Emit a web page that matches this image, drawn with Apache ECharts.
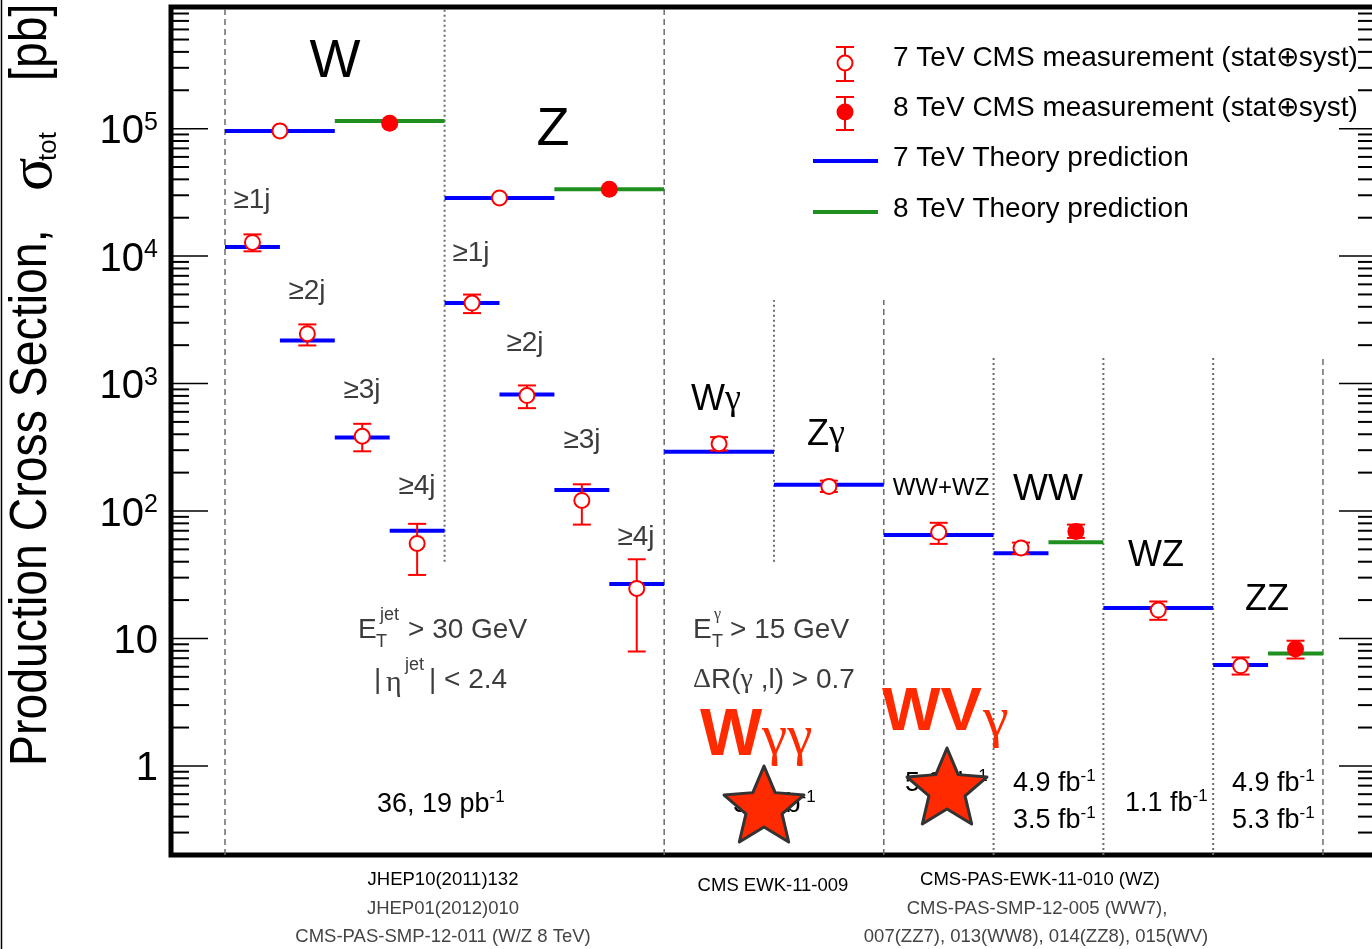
<!DOCTYPE html>
<html>
<head>
<meta charset="utf-8">
<title>Production cross sections</title>
<script src="https://cdn.jsdelivr.net/npm/echarts@6/dist/echarts.min.js"></script>
<style>
  html, body { margin: 0; padding: 0; background: #fff; }
  #chart { width: 1372px; height: 949px; }
</style>
</head>
<body>
<div id="chart"></div>
<script>
// ---------------------------------------------------------------------------
// Total production cross sections, in pb.
// Bins run along a process axis: one unit per jet-multiplicity slot,
// inclusive W/Z and diboson channels take two units.
// ---------------------------------------------------------------------------
const bins7 = [[0, 2], [0, 1], [1, 2], [2, 3], [3, 4],
               [4, 6], [4, 5], [5, 6], [6, 7], [7, 8],
               [8, 10], [10, 12], [12, 14], [14, 15], [16, 18], [18, 19]];
const names7 = ['W', 'W ≥1j', 'W ≥2j', 'W ≥3j', 'W ≥4j',
                'Z', 'Z ≥1j', 'Z ≥2j', 'Z ≥3j', 'Z ≥4j',
                'Wγ', 'Zγ', 'WW+WZ', 'WW', 'WZ', 'ZZ'];
const theory7  = [96000, 11800, 2180, 378, 70.0, 28600, 4280, 820, 146, 26.7, 291, 161, 64.9, 46.6, 17.3, 6.2];
const meas7    = [96000, 12800, 2460, 386, 55.7, 28600, 4280, 805, 121, 24.7, 337, 156, 68.0, 51.3, 16.7, 6.1];
const err7Low  = [null, 10900, 1990, 294, 31.5, null, 3570, 641, 78.2, 7.9, 298, 141, 55.2, 46.0, 14.0, 5.21];
const err7High = [null, 14800, 2910, 483, 79.3, null, 4990, 966, 162, 41.8, 380, 173, 80.8, 56.5, 19.5, 7.10];

const bins8 = [[2, 4], [6, 8], [15, 16], [19, 20]];
const names8 = ['W', 'Z', 'WW', 'ZZ'];
const theory8  = [115000, 33500, 56.8, 7.62];
const meas8    = [110000, 33400, 69.2, 8.26];
const err8Low  = [null, null, 61.5, 6.96];
const err8High = [null, null, 78.2, 9.6];

// Section separators: [x, lower value, upper value, 'dash' | 'dot']
const dividers = [
  [0, 0.2, 9e5, 'dash'], [4, 40, 9e5, 'dot'], [8, 0.2, 9e5, 'dash'],
  [10, 40, 4520, 'dot'], [12, 0.2, 4520, 'dash'],
  [14, 0.2, 1675, 'dot'], [16, 0.2, 1675, 'dot'], [18, 0.2, 1675, 'dot'],
  [20, 0.2, 1675, 'dash']
];

// Labelled decades of the log axis
const yDecades = [1, 10, 100, 1000, 10000, 100000];
const yDecadeLabels = ['1', '10', '10^2', '10^3', '10^4', '10^5'];

// ---------------------------------------------------------------------------
const X_MIN = -0.9836, X_MAX = 20.966;
const Y_MIN = 0.2, Y_MAX = 9e5;

const SANS = '"Liberation Sans", Arial, Helvetica, sans-serif';
const SERIF = '"Liberation Serif", "Times New Roman", serif';
const RED = '#ff0000';
const BLUE = '#0000ff';
const GREEN = '#1f8f1f';
const STAR_RED = '#ff2a00';
const GREY_TXT = '#3c3c3c';

// minor + major tick values over the axis range
const tickValues = [];
for (let e = -1; e <= 5; e++) {
  for (let m = 1; m <= 9; m++) {
    const v = +(m * Math.pow(10, e)).toPrecision(6);
    if (v >= Y_MIN * 0.999 && v <= Y_MAX * 1.001) tickValues.push(v);
  }
}

const mid = b => (b[0] + b[1]) / 2;

function hLineSeries(name, bins, values, color) {
  return {
    name, type: 'custom', coordinateSystem: 'cartesian2d', z: 3, silent: true,
    data: bins.map((b, i) => [b[0], b[1], values[i]]),
    encode: { x: [0, 1], y: 2 },
    renderItem(params, api) {
      const a = api.coord([api.value(0), api.value(2)]);
      const b = api.coord([api.value(1), api.value(2)]);
      return {
        type: 'line',
        shape: { x1: a[0], y1: a[1], x2: b[0], y2: b[1] },
        style: { stroke: color, lineWidth: 4 }
      };
    }
  };
}

function errorSeries(name, bins, lo, hi) {
  const rows = [];
  bins.forEach((b, i) => { if (lo[i] != null) rows.push([mid(b), lo[i], hi[i]]); });
  return {
    name, type: 'custom', coordinateSystem: 'cartesian2d', z: 4, silent: true,
    data: rows,
    encode: { x: 0, y: [1, 2] },
    renderItem(params, api) {
      const p1 = api.coord([api.value(0), api.value(1)]);
      const p2 = api.coord([api.value(0), api.value(2)]);
      const st = { stroke: RED, lineWidth: 2 };
      const c = 9;
      return {
        type: 'group',
        children: [
          { type: 'line', shape: { x1: p1[0], y1: p1[1], x2: p2[0], y2: p2[1] }, style: st },
          { type: 'line', shape: { x1: p1[0] - c, y1: p1[1], x2: p1[0] + c, y2: p1[1] }, style: st },
          { type: 'line', shape: { x1: p2[0] - c, y1: p2[1], x2: p2[0] + c, y2: p2[1] }, style: st }
        ]
      };
    }
  };
}

const series = [
  // section separators
  {
    type: 'custom', coordinateSystem: 'cartesian2d', z: 1, silent: true,
    data: dividers.map(d => [d[0], d[1], d[2], d[3] === 'dash' ? 0 : 1]),
    encode: { x: 0, y: [1, 2] },
    renderItem(params, api) {
      const p1 = api.coord([api.value(0), api.value(1)]);
      const p2 = api.coord([api.value(0), api.value(2)]);
      const dashed = api.value(3) === 0;
      return {
        type: 'line',
        shape: { x1: p1[0], y1: p1[1], x2: p2[0], y2: p2[1] },
        style: { stroke: '#6b6b6b', lineWidth: dashed ? 1.5 : 2, lineDash: dashed ? [6, 4] : [2, 3] }
      };
    }
  },
  hLineSeries('7 TeV Theory prediction', bins7, theory7, BLUE),
  hLineSeries('8 TeV Theory prediction', bins8, theory8, GREEN),
  errorSeries('7 TeV errors', bins7, err7Low, err7High),
  errorSeries('8 TeV errors', bins8, err8Low, err8High),
  {
    name: '7 TeV CMS measurement (stat⊕syst)', type: 'scatter', z: 5, silent: true,
    data: bins7.map((b, i) => ({ name: names7[i], value: [mid(b), meas7[i]] })),
    symbol: 'circle', symbolSize: 15,
    itemStyle: { color: '#ffffff', borderColor: RED, borderWidth: 2, opacity: 1 }
  },
  {
    name: '8 TeV CMS measurement (stat⊕syst)', type: 'scatter', z: 5, silent: true,
    data: bins8.map((b, i) => ({ name: names8[i], value: [mid(b), meas8[i]] })),
    symbol: 'circle', symbolSize: 17,
    itemStyle: { color: RED, opacity: 1 }
  },
  // inward ticks on both vertical frame sides, decade labels on the left
  {
    type: 'custom', coordinateSystem: 'cartesian2d', z: 6, silent: true,
    data: tickValues.map(v => [0, v]),
    encode: { x: 0, y: 1 },
    renderItem(params, api) {
      const v = api.value(1);
      const y = api.coord([0, v])[1];
      const cs = params.coordSys;
      const k = yDecades.indexOf(v);
      const major = k >= 0;
      const L = major ? 37 : 18;
      const lw = major ? 1.5 : 2;
      const left = cs.x, right = cs.x + cs.width;
      const children = [
        { type: 'line', shape: { x1: left, y1: y, x2: left + L, y2: y }, style: { stroke: '#000', lineWidth: lw } },
        { type: 'line', shape: { x1: right - L, y1: y, x2: right, y2: y }, style: { stroke: '#000', lineWidth: lw } }
      ];
      if (major) {
        const parts = yDecadeLabels[k].split('^');
        const text = parts.length > 1 ? `{b|${parts[0]}}{s|${parts[1]}}` : `{b|${parts[0]}}`;
        children.push({
          type: 'text',
          style: {
            text, x: left - 13, y: y + 3.5, align: 'right', verticalAlign: 'middle',
            rich: {
              b: { fontSize: 40, fontFamily: SANS, fill: '#000' },
              s: { fontSize: 25, fontFamily: SANS, fill: '#000', padding: [0, 0, 18, 0] }
            }
          }
        });
      }
      return { type: 'group', children };
    }
  }
];

// ---------------------------------------------------------------------------
// Annotations
// ---------------------------------------------------------------------------
function label(x, y, text, size, opt) {
  opt = opt || {};
  const el = {
    type: 'text', x, y, z: opt.z || 100, silent: true,
    rotation: opt.rotation || 0, scaleX: opt.scaleX || 1,
    style: {
      text, fill: opt.color || '#000',
      fontSize: size, fontFamily: opt.family || SANS, fontWeight: opt.weight || 'normal',
      align: opt.align || 'center', verticalAlign: 'middle'
    }
  };
  if (opt.rich) el.style.rich = opt.rich;
  return el;
}

function lumi(x, y, value, unit) {
  return label(x, y, `{n|${value} ${unit}}{s|-1}`, 27, {
    align: 'left',
    rich: {
      n: { fontSize: 27, fontFamily: SANS, fill: '#000' },
      s: { fontSize: 17, fontFamily: SANS, fill: '#000', padding: [0, 0, 16, 0] }
    }
  });
}

function gl(x, y, text, size, color) {
  return label(x, y, `{a|${text[0]}}{g|${text[1]}}`, size, {
    rich: {
      a: { fontSize: size, fontFamily: SANS, fill: color || '#000' },
      g: { fontSize: size, fontFamily: SERIF, fill: color || '#000' }
    }
  });
}

function starPoints(cx, cy, R, r) {
  const pts = [];
  for (let i = 0; i < 10; i++) {
    const a = -Math.PI / 2 + i * Math.PI / 5;
    const rad = i % 2 === 0 ? R : r;
    pts.push([cx + rad * Math.cos(a), cy + rad * Math.sin(a)]);
  }
  return pts;
}

function line(x1, y1, x2, y2, color, w) {
  return { type: 'line', z: 100, silent: true, shape: { x1, y1, x2, y2 }, style: { stroke: color, lineWidth: w } };
}

const graphics = [
  // outer border on the left edge
  line(1.5, 0, 1.5, 949, '#000', 1.5),

  // y-axis title
  label(31.5, 766, 'Production Cross Section,', 51, { align: 'left', rotation: Math.PI / 2, scaleX: 0.91 }),
  label(35, 191, 'σ', 62, { align: 'left', rotation: Math.PI / 2, family: SERIF }),
  label(49, 161, 'tot', 26, { align: 'left', rotation: Math.PI / 2 }),
  label(31.5, 81, '[pb]', 51, { align: 'left', rotation: Math.PI / 2, scaleX: 0.91 }),

  // process names
  label(335, 62, 'W', 54),
  label(553, 130, 'Z', 54),
  gl(716, 400, ['W', 'γ'], 36),
  gl(826, 435, ['Z', 'γ'], 36),
  label(941, 488, 'WW+WZ', 24),
  label(1048, 490, 'WW', 37),
  label(1156, 556, 'WZ', 36),
  label(1267, 600, 'ZZ', 36),

  // jet multiplicities
  label(252, 200, '≥1j', 28, { color: GREY_TXT }),
  label(307, 291, '≥2j', 28, { color: GREY_TXT }),
  label(362, 390, '≥3j', 28, { color: GREY_TXT }),
  label(417, 486, '≥4j', 28, { color: GREY_TXT }),
  label(471, 253, '≥1j', 28, { color: GREY_TXT }),
  label(525, 343, '≥2j', 28, { color: GREY_TXT }),
  label(582, 440, '≥3j', 28, { color: GREY_TXT }),
  label(636, 537, '≥4j', 28, { color: GREY_TXT }),

  // jet selection
  label(358, 630, 'E', 28, { align: 'left', color: GREY_TXT }),
  label(376, 642, 'T', 18, { align: 'left', color: GREY_TXT }),
  label(380, 615, 'jet', 18, { align: 'left', color: GREY_TXT }),
  label(408, 630, '> 30 GeV', 28, { align: 'left', color: GREY_TXT }),
  label(374, 680, '|', 28, { align: 'left', color: GREY_TXT }),
  label(386, 683, 'η', 30, { align: 'left', color: GREY_TXT, family: SERIF }),
  label(405, 665, 'jet', 18, { align: 'left', color: GREY_TXT }),
  label(429, 680, '| < 2.4', 28, { align: 'left', color: GREY_TXT }),

  // photon selection
  label(693, 630, 'E', 28, { align: 'left', color: GREY_TXT }),
  label(712, 642, 'T', 18, { align: 'left', color: GREY_TXT }),
  label(714, 615, 'γ', 16, { align: 'left', color: GREY_TXT, family: SERIF }),
  label(730, 630, '> 15 GeV', 28, { align: 'left', color: GREY_TXT }),
  label(693, 680, '{g|Δ}{a|R(}{g|γ}{a| ,l) > 0.7}', 28, {
    align: 'left',
    rich: {
      a: { fontSize: 28, fontFamily: SANS, fill: GREY_TXT },
      g: { fontSize: 28, fontFamily: SERIF, fill: GREY_TXT }
    }
  }),

  // integrated luminosities
  lumi(377, 805, '36, 19', 'pb'),
  lumi(733, 805, '5.0', 'fb'),
  lumi(905, 784, '5.0', 'fb'),
  lumi(1013, 784, '4.9', 'fb'),
  lumi(1013, 821, '3.5', 'fb'),
  lumi(1125, 804, '1.1', 'fb'),
  lumi(1232, 784, '4.9', 'fb'),
  lumi(1232, 821, '5.3', 'fb'),

  // new channels
  { type: 'polygon', z: 110, silent: true, shape: { points: starPoints(764, 808, 42, 19) },
    style: { fill: STAR_RED, stroke: '#333', lineWidth: 3, lineJoin: 'round' } },
  { type: 'polygon', z: 110, silent: true, shape: { points: starPoints(947, 790, 42, 19) },
    style: { fill: STAR_RED, stroke: '#333', lineWidth: 3, lineJoin: 'round' } },
  label(700, 737, 'W', 66, { align: 'left', weight: 'bold', color: STAR_RED, z: 120 }),
  label(762, 739, 'γγ', 57, { align: 'left', family: SERIF, color: STAR_RED, z: 120 }),
  label(882, 713, 'WV', 62, { align: 'left', weight: 'bold', color: STAR_RED, z: 120 }),
  label(983, 721, 'γ', 58, { align: 'left', family: SERIF, color: STAR_RED, z: 120 }),

  // legend
  line(845, 47, 845, 81, RED, 2), line(836, 47, 854, 47, RED, 2), line(836, 81, 854, 81, RED, 2),
  { type: 'circle', z: 101, silent: true, shape: { cx: 845, cy: 63, r: 7.5 }, style: { fill: '#fff', stroke: RED, lineWidth: 2 } },
  line(845, 97, 845, 130, RED, 2), line(836, 97, 854, 97, RED, 2), line(836, 130, 854, 130, RED, 2),
  { type: 'circle', z: 101, silent: true, shape: { cx: 845, cy: 112, r: 8.5 }, style: { fill: RED } },
  line(813, 161, 878, 161, BLUE, 4),
  line(813, 212, 878, 212, GREEN, 4),
  label(893, 58, '7 TeV CMS measurement (stat⊕syst)', 28, { align: 'left' }),
  label(893, 108, '8 TeV CMS measurement (stat⊕syst)', 28, { align: 'left' }),
  label(893, 158, '7 TeV Theory prediction', 28, { align: 'left' }),
  label(893, 209, '8 TeV Theory prediction', 28, { align: 'left' }),

  // references
  label(443, 880, 'JHEP10(2011)132', 18.5),
  label(443, 909, 'JHEP01(2012)010', 18.5, { color: '#444' }),
  label(443, 937, 'CMS-PAS-SMP-12-011 (W/Z 8 TeV)', 18.5, { color: '#444' }),
  label(773, 886, 'CMS EWK-11-009', 18.5),
  label(1040, 880, 'CMS-PAS-EWK-11-010 (WZ)', 18.5),
  label(1037, 909, 'CMS-PAS-SMP-12-005 (WW7),', 18.5, { color: '#444' }),
  label(1036, 937, '007(ZZ7), 013(WW8), 014(ZZ8), 015(WV)', 18.5, { color: '#444' })
];

const option = {
  animation: false,
  backgroundColor: '#ffffff',
  tooltip: { show: false },
  grid: {
    left: 171, right: -4, top: 7, bottom: 94,
    show: true, borderColor: '#000', borderWidth: 5, backgroundColor: 'transparent',
    outerBoundsMode: 'none', containLabel: false
  },
  xAxis: { type: 'value', min: X_MIN, max: X_MAX, show: false },
  yAxis: { type: 'log', logBase: 10, min: Y_MIN, max: Y_MAX, show: false },
  series,
  graphic: graphics
};

const chart = echarts.init(document.getElementById('chart'), null, { renderer: 'canvas' });
chart.setOption(option);
</script>
</body>
</html>
